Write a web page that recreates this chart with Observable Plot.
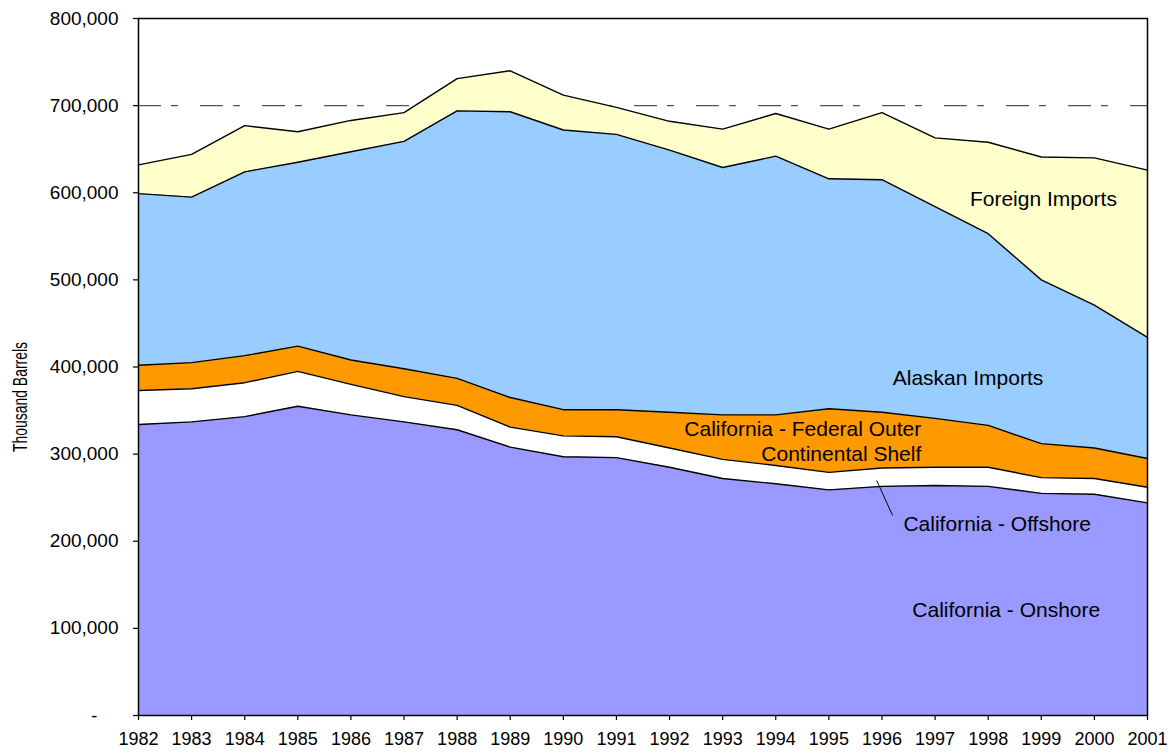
<!DOCTYPE html>
<html>
<head>
<meta charset="utf-8">
<script src="https://cdn.jsdelivr.net/npm/d3@7"></script>
<script src="https://cdn.jsdelivr.net/npm/@observablehq/plot@0.6"></script>
<style>
  html, body { margin: 0; padding: 0; background: #fff; }
  #chart svg { display: block; font-family: "Liberation Sans", Arial, sans-serif; }
</style>
</head>
<body>
<div id="chart"></div>
<script>
// ---- Data (thousand barrels) ----
const years = [1982,1983,1984,1985,1986,1987,1988,1989,1990,1991,1992,1993,1994,1995,1996,1997,1998,1999,2000,2001];
const onshore  = [334000,337000,343000,355000,345000,337000,328000,308000,297000,296000,285000,272000,266000,259000,263000,264000,263000,255000,254000,244000];
const offshore = [39000,38000,39000,40000,35000,29000,28000,23000,24000,24000,22000,22000,21000,20000,21000,21000,22000,18000,18000,18000];
const ocs      = [29000,30000,31000,29000,28000,32000,31000,34000,30000,31000,41000,51000,58000,73000,64000,56000,48000,39000,35000,33000];
const alaskan  = [197000,190000,211000,211000,239000,261000,307000,328000,321000,316000,301000,284000,297000,264000,267000,243000,220000,188000,164000,139000];
const foreign  = [33000,49000,53000,35000,36000,33000,37000,47000,40000,31000,33000,44000,49000,57000,77000,79000,105000,141000,169000,192000];

const seriesNames = ["California - Onshore","California - Offshore","California - Federal Outer Continental Shelf","Alaskan Imports","Foreign Imports"];
const seriesColors = ["#9999FF","#FFFFFF","#FF9900","#99CCFF","#FFFFCC"];
const seriesValues = [onshore, offshore, ocs, alaskan, foreign];

const yTicks = [0,100000,200000,300000,400000,500000,600000,700000,800000];
const referenceLevel = [700000];
const yTitle = "Thousand Barrels";

// in-chart labels, centred (anchor year, anchor value)
const centerText  = ["Foreign Imports","Alaskan Imports","California - Offshore","California - Onshore"];
const centerYear  = [1999.04,1997.62,1998.17,1998.34];
const centerValue = [592000,386500,220000,120500];
// in-chart labels, right-aligned
const rightText  = ["California - Federal Outer","Continental Shelf"];
const rightYear  = [1996.74,1996.74];
const rightValue = [328000,300400];
// leader line for offshore label
const leaderYear  = [1995.90, 1996.20];
const leaderValue = [269700, 229600];

// ---- Build tables ----
const rows = seriesNames.flatMap((s, i) => years.map((yr, j) => ({year: yr, series: s, value: seriesValues[i][j]})));
const centerLabels = centerText.map((t, i) => ({text: t, year: centerYear[i], value: centerValue[i]}));
const rightLabels = rightText.map((t, i) => ({text: t, year: rightYear[i], value: rightValue[i]}));
const leader = [{x1: leaderYear[0], y1: leaderValue[0], x2: leaderYear[1], y2: leaderValue[1]}];

const fmt = d3.format(",");
const chart = Plot.plot({
  width: 1174,
  height: 755,
  marginLeft: 138,
  marginRight: 27,
  marginTop: 18,
  marginBottom: 40,
  style: {fontFamily: "Liberation Sans, Arial, sans-serif", background: "#fff"},
  x: {domain: [1982, 2001], label: null},
  y: {domain: [0, 800000], label: null},
  color: {domain: seriesNames, range: seriesColors},
  marks: [
    Plot.ruleY(referenceLevel, {stroke: "#555", strokeWidth: 1.3, strokeDasharray: "23,10,7,22"}),
    Plot.areaY(rows, Plot.stackY({x: "year", y: "value", z: "series", fill: "series", order: seriesNames})),
    Plot.lineY(rows, Plot.stackY2({x: "year", y: "value", z: "series", order: seriesNames, stroke: "#000", strokeWidth: 1.4})),
    Plot.frame({stroke: "#000", strokeWidth: 1.5}),
    Plot.axisX({ticks: years, tickFormat: d => String(d), tickSize: 5, tickPadding: 12, fontSize: 18, stroke: "#000", strokeWidth: 1.2, fill: "#000"}),
    Plot.axisY({ticks: yTicks, tickFormat: d => d === 0 ? "-\u2007\u2007" : fmt(d), tickSize: 5, tickPadding: 15, fontSize: 19, stroke: "#000", strokeWidth: 1.2, fill: "#000"}),
    Plot.link(leader, {x1: "x1", y1: "y1", x2: "x2", y2: "y2", stroke: "#000", strokeWidth: 1}),
    Plot.text(centerLabels, {x: "year", y: "value", text: "text", textAnchor: "middle", fontSize: 21, fill: "#000"}),
    Plot.text(rightLabels, {x: "year", y: "value", text: "text", textAnchor: "end", fontSize: 21, fill: "#000"})
  ]
});

// y-axis title (condensed, as in the reference)
d3.select(chart).append("text")
  .attr("transform", "translate(27,397) rotate(-90) scale(0.68,1)")
  .attr("text-anchor", "middle")
  .style("font-size", "20.5px")
  .style("font-family", "Liberation Sans, Arial, sans-serif")
  .style("fill", "#000")
  .text(yTitle);

document.getElementById("chart").appendChild(chart);
</script>
</body>
</html>
